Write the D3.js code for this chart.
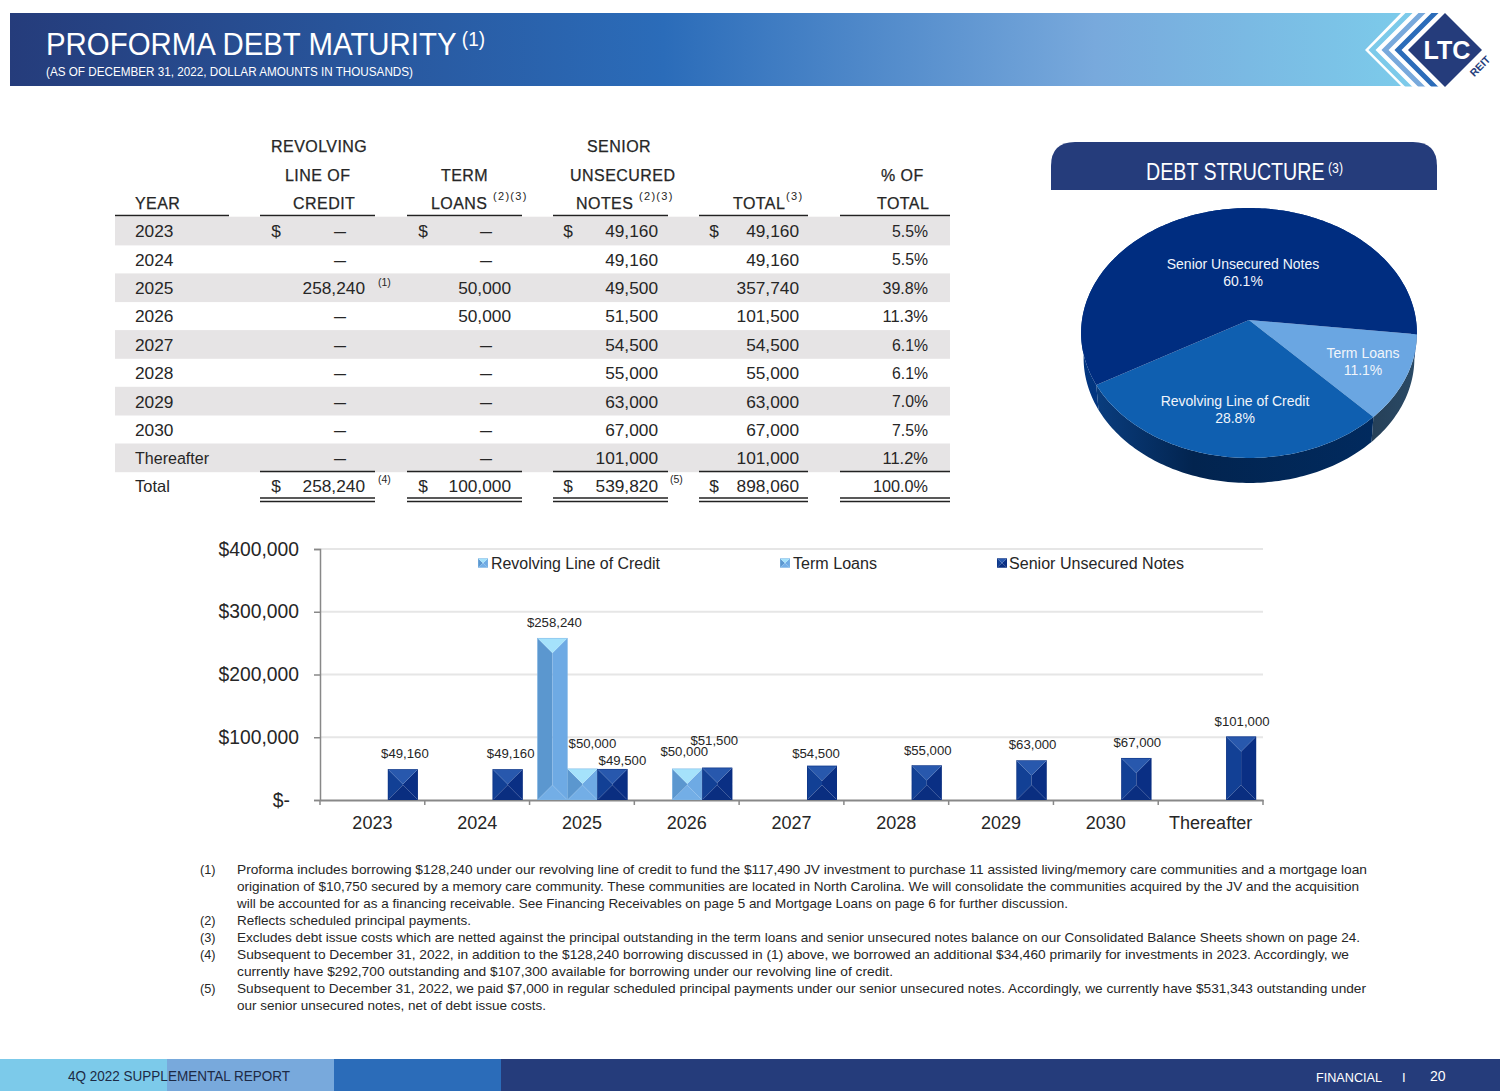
<!DOCTYPE html>
<html><head><meta charset="utf-8">
<script src="https://cdn.jsdelivr.net/npm/d3@7"></script>
<style>html,body{margin:0;padding:0;background:#fff}svg{display:block}text{font-family:"Liberation Sans",sans-serif}</style>
</head><body><svg id="c" width="1500" height="1091"></svg>
<script>
// ---- data ----
const years = ["2023","2024","2025","2026","2027","2028","2029","2030","Thereafter"];
const revolvingValues = [0,0,258240,0,0,0,0,0,0];
const termValues = [0,0,50000,50000,0,0,0,0,0];
const seniorValues = [49160,49160,49500,51500,54500,55000,63000,67000,101000];
const totalValues = [49160,49160,357740,101500,54500,55000,63000,67000,101000];
const pctValues = ["5.5%","5.5%","39.8%","11.3%","6.1%","6.1%","7.0%","7.5%","11.2%"];
const totalsRow = {revolving:258240,term:100000,senior:539820,total:898060,pct:"100.0%"};
const seriesNames = ["Revolving Line of Credit","Term Loans","Senior Unsecured Notes"];
const pieNames = ["Term Loans","Revolving Line of Credit","Senior Unsecured Notes"];
const pieValues = [11.1,28.8,60.1];
const yTicks = [0,100000,200000,300000,400000];
const footnotes = [
 ["(1)","Proforma includes borrowing $128,240 under our revolving line of credit to fund the $117,490 JV investment to purchase 11 assisted living/memory care communities and a mortgage loan",1130],
 ["","origination of $10,750 secured by a memory care community. These communities are located in North Carolina. We will consolidate the communities acquired by the JV and the acquisition",1122],
 ["","will be accounted for as a financing receivable. See Financing Receivables on page 5 and Mortgage Loans on page 6 for further discussion.",831],
 ["(2)","Reflects scheduled principal payments.",234],
 ["(3)","Excludes debt issue costs which are netted against the principal outstanding in the term loans and senior unsecured notes balance on our Consolidated Balance Sheets shown on page 24.",1123],
 ["(4)","Subsequent to December 31, 2022, in addition to the $128,240 borrowing discussed in (1) above, we borrowed an additional $34,460 primarily for investments in 2023. Accordingly, we",1112],
 ["","currently have $292,700 outstanding and $107,300 available for borrowing under our revolving line of credit.",656],
 ["(5)","Subsequent to December 31, 2022, we paid $7,000 in regular scheduled principal payments under our senior unsecured notes. Accordingly, we currently have $531,343 outstanding under",1129],
 ["","our senior unsecured notes, net of debt issue costs.",309]
];
// ---- helpers ----
const svg = d3.select("#c"), defs = svg.append("defs");
const NAVY="#253c7b", INK="#262626";
function T(x,y,s,o={}){
  const t=svg.append("text").attr("x",x).attr("y",y).attr("dy",".36em").text(s)
   .attr("font-size",o.size||16).attr("fill",o.fill||INK).attr("text-anchor",o.anchor||"start");
  if(o.ls)t.attr("letter-spacing",o.ls);
  if(o.weight)t.attr("font-weight",o.weight);
  if(o.stroke)t.attr("stroke",o.fill||INK).attr("stroke-width",o.stroke);
  if(o.w)t.attr("textLength",o.w).attr("lengthAdjust","spacingAndGlyphs");
  return t;
}
function sup(t,s,size){ t.append("tspan").attr("font-size",size).attr("dy","-.45em").text(" "+s); return t; }
function grad(id,stops,x2=1,y2=0){
  const g=defs.append("linearGradient").attr("id",id).attr("x1",0).attr("y1",0).attr("x2",x2).attr("y2",y2);
  stops.forEach(s=>g.append("stop").attr("offset",s[0]).attr("stop-color",s[1]));
}
// ---- header ----
defs.append("linearGradient").attr("id","hdr").attr("gradientUnits","userSpaceOnUse").attr("x1",10).attr("x2",1400).attr("y1",0).attr("y2",0)
 .selectAll("stop").data([[0,"#253c7b"],[.47,"#2b6cb9"],[.78,"#78a9dc"],[1,"#7ccaea"]]).join("stop")
 .attr("offset",d=>d[0]).attr("stop-color",d=>d[1]);
svg.append("path").attr("d","M10,13H1401L1365,50L1401,86H10Z").attr("fill","url(#hdr)");
sup(T(46,44,"PROFORMA DEBT MATURITY",{size:31,fill:"#fff",w:439}),"(1)",20);
T(46,71.5,"(AS OF DECEMBER 31, 2022, DOLLAR AMOUNTS IN THOUSANDS)",{size:12.5,fill:"#fff",w:367});
defs.append("clipPath").attr("id","hclip").append("rect").attr("x",1340).attr("y",13).attr("width",160).attr("height",73.5);
const chevG=svg.append("g").attr("clip-path","url(#hclip)");
[[1372,"#7ccaea"],[1385,"#78a9dc"],[1398,"#2b6cb9"]].forEach(c=>{
  chevG.append("path").attr("d",`M${c[0]+40},10L${c[0]},50L${c[0]+40},90`).attr("fill","none").attr("stroke",c[1]).attr("stroke-width",5).attr("stroke-linejoin","miter");
});
svg.append("path").attr("d","M1445,13L1482,50L1445,87L1408,50Z").attr("fill",NAVY);
T(1447,50,"LTC",{size:25,fill:"#fff",weight:"bold",anchor:"middle",w:47});
svg.append("text").attr("transform","translate(1480,66) rotate(-45)").attr("text-anchor","middle").attr("dy",".36em")
  .attr("font-size",10.5).attr("font-weight","bold").attr("fill",NAVY).text("REIT");
// ---- table ----
const rowY=i=>231.2+i*28.35;
[0,2,4,6,8].forEach(i=>svg.append("rect").attr("x",115).attr("y",rowY(i)-14.5).attr("width",835).attr("height",28.7).attr("fill","#e6e4e5"));
const hs={size:16,ls:.45,stroke:.25};
[[271,146,"REVOLVING"],[285,175,"LINE OF"],[293,203,"CREDIT"],[135,203,"YEAR"],[441,175,"TERM"],[431,203,"LOANS"],
 [587,146,"SENIOR"],[570,175,"UNSECURED"],[576,203,"NOTES"],[733,203,"TOTAL"],[881,175,"% OF"],[877,203,"TOTAL"]]
 .forEach(h=>T(h[0],h[1],h[2],hs));
[[493,196,"(2)(3)"],[639,196,"(2)(3)"],[786,196,"(3)"]].forEach(h=>T(h[0],h[1],h[2],{size:11,ls:1.3}));
const colSeg=[[115,229],[260,375],[407,522],[553,668],[699,808],[840,950]];
const line=(a,b,y,w=1.5)=>svg.append("line").attr("x1",a).attr("x2",b).attr("y1",y).attr("y2",y).attr("stroke","#222").attr("stroke-width",w);
colSeg.forEach(s=>line(s[0],s[1],215.5));
colSeg.slice(1).forEach(s=>{line(s[0],s[1],471.5);line(s[0],s[1],498);line(s[0],s[1],501.5);});
const fmt=d3.format(",");
const NUM=17.3;
const pctW=p=>p.replace(/[^0-9]/g,"").length*9.5+17;
const cols=[[365,346,276,revolvingValues],[511,492,423,termValues],[658,0,568,seniorValues],[799,0,714,totalValues]];
years.forEach((yr,i)=>{
  T(135,rowY(i),yr,i===8?{size:16.3,w:74}:{size:NUM});
  cols.forEach(c=>{
    const v=c[3][i];
    if(v)T(c[0],rowY(i),fmt(v),{size:NUM,anchor:"end"});
    else T(c[1]-12,rowY(i),"—",{size:NUM,w:12});
    if(i===0)T(c[2],rowY(i),"$",{size:NUM,anchor:"middle"});
  });
  T(928-pctW(pctValues[i]),rowY(i),pctValues[i],{size:16.5,w:pctW(pctValues[i])});
});
T(135,486,"Total",{size:16.5});
[[365,276,totalsRow.revolving],[511,423,totalsRow.term],[658,568,totalsRow.senior],[799,714,totalsRow.total]]
 .forEach(c=>{T(c[0],486,fmt(c[2]),{size:NUM,anchor:"end"});T(c[1],486,"$",{size:NUM,anchor:"middle"});});
T(928-pctW(totalsRow.pct),486,totalsRow.pct,{size:16.5,w:pctW(totalsRow.pct)});
[[378,282,"(1)"],[378,479,"(4)"],[670,479,"(5)"]].forEach(s=>T(s[0],s[1],s[2],{size:10.5}));
// ---- pie title ----
svg.append("path").attr("d","M1051,190V166Q1051,142 1075,142H1413Q1437,142 1437,166V190Z").attr("fill",NAVY);
sup(T(1146,171.5,"DEBT STRUCTURE",{size:24,fill:"#fff",w:197}),"(3)",15);
// ---- 3D pie: d3.pie angles, projected through a tilted-disc perspective ----
const apex=[1249,320], K=.104, SX=167, SY=123.6, DEPTH=25;
const proj=a=>{const u=Math.sin(a),v=-Math.cos(a),d=1-K*v;return [apex[0]+SX*u/d,apex[1]+SY*v/d];};
const START=96.5*Math.PI/180;
const arcs=d3.pie().sort(null).startAngle(START).endAngle(START+2*Math.PI)(pieValues);
const pieLine=d3.line();
const rim=d=>{const n=Math.ceil((d.endAngle-d.startAngle)/.02);return d3.range(n+1).map(i=>proj(d.startAngle+(d.endAngle-d.startAngle)*i/n));};
grad("sideTerm",[[0,"#264058"],[1,"#2a4a66"]]);
grad("sideRev",[[0,"#0a3d7e"],[.35,"#02244f"],[1,"#012a5e"]]);
grad("sideSen",[[0,"#02357f"],[1,"#0b3c8c"]]);
const sideFill=["url(#sideTerm)","url(#sideRev)","url(#sideSen)"], topFill=["#6aa6e2","#0f5fb0","#002d80"];
const pieG=svg.append("g");
const lower=p=>[apex[0]+(p[0]-apex[0])*.985,p[1]+DEPTH];
pieG.selectAll(".side").data(arcs).join("path").attr("class","side").attr("fill",(d,i)=>sideFill[i])
  .attr("d",d=>{const r=rim(d);return pieLine(r.concat(r.map(lower).reverse()))+"Z";});
pieG.selectAll(".top").data(arcs).join("path").attr("class","top").attr("fill",(d,i)=>topFill[i])
  .attr("d",d=>pieLine([apex].concat(rim(d)))+"Z");
const pieLab=[[1363,353,370],[1235,401,418],[1243,264,281]];
pieNames.forEach((n,i)=>{
  T(pieLab[i][0],pieLab[i][1],n,{size:14,fill:"#f1f5fb",anchor:"middle"});
  T(pieLab[i][0],pieLab[i][2],pieValues[i].toFixed(1)+"%",{size:14,fill:"#f1f5fb",anchor:"middle"});
});
// ---- bar chart ----
const x=d3.scaleBand().domain(years).range([320,1263]).paddingInner(0).paddingOuter(0);
const y=d3.scaleLinear().domain([0,400000]).range([800,549]);
const sub=d3.scaleBand().domain(seriesNames).range([x.bandwidth()/2-45,x.bandwidth()/2+45]);
svg.append("g").selectAll("line").data(yTicks.slice(1)).join("line")
  .attr("x1",320).attr("x2",1263).attr("y1",d=>y(d)).attr("y2",d=>y(d)).attr("stroke","#e6e6e6").attr("stroke-width",2);
const yAxis=d3.axisLeft(y).tickValues(yTicks).tickSize(6).tickPadding(15).tickFormat(d=>d?"$"+fmt(d):"$-");
const gy=svg.append("g").attr("transform","translate(320,0)").call(yAxis);
gy.selectAll("path,line").attr("stroke","#888").attr("stroke-width",1.5);
gy.selectAll("text").attr("font-size",19.3).attr("fill",INK).attr("font-family","Liberation Sans");
gy.selectAll(".tick").filter(d=>d===0).select("text").attr("x",-30);
const xAxis=d3.axisBottom(x).tickSize(0).tickPadding(16);
const gx=svg.append("g").attr("transform","translate(0,800)").call(xAxis);
gx.select("path").attr("stroke","#888").attr("stroke-width",2);
gx.selectAll("text").attr("font-size",18).attr("fill",INK).attr("font-family","Liberation Sans");
svg.append("g").selectAll("line").data(years.concat(["end"])).join("line")
  .attr("x1",d=>d==="end"?1263:x(d)).attr("x2",d=>d==="end"?1263:x(d)).attr("y1",800).attr("y2",805).attr("stroke","#888").attr("stroke-width",1.5);
const LIGHT={top:"#a5e2fb",left:"#5b97cf",right:"#6eaae4",bottom:"#73aee6",edge:"#7fb4e4"};
const DARK={top:"#2858ad",left:"#124095",right:"#0a2f84",bottom:"#0a2e80",edge:"#0a2f7e"};
function bevel(g,bx,by,w,h,c){
  const b=Math.min(w/2,h/2), cx=bx+w/2, t=by+b, m=by+h-b;
  const P=(pts,f)=>g.append("polygon").attr("points",pts.join(" ")).attr("fill",f);
  P([[bx,by],[cx,t],[cx,m],[bx,by+h]],c.left);
  P([[bx+w,by],[cx,t],[cx,m],[bx+w,by+h]],c.right);
  P([[bx,by+h],[cx,m],[bx+w,by+h]],c.bottom);
  P([[bx,by],[bx+w,by],[cx,t]],c.top);
  g.append("rect").attr("x",bx+.25).attr("y",by+.25).attr("width",w-.5).attr("height",h-.5).attr("fill","none").attr("stroke",c.edge).attr("stroke-width",.5);
}
const seriesValues=[revolvingValues,termValues,seniorValues], seriesCol=[LIGHT,LIGHT,DARK];
const barG=svg.append("g");
seriesValues.forEach((vals,s)=>vals.forEach((v,i)=>{
  if(!v)return;
  bevel(barG,x(years[i])+sub(seriesNames[s])+.5,y(v),sub.bandwidth(),y(0)-y(v),seriesCol[s]);
}));
// label nudges from the automatic above-bar spot, to avoid label collisions as in the original
const nudges={"0-2":[1,0],"1-2":[9,-9],"2-2":[9,7],"1-3":[-4,-1],"2-3":[-4,-11],"2-4":[-7,3],"2-5":[0,1],"2-6":[0,0],"2-7":[0,0],"2-8":[0,1],"2-0":[1,0],"2-1":[2,0]};
seriesValues.forEach((vals,s)=>vals.forEach((v,i)=>{
  if(!v)return;
  const n=nudges[s+"-"+i]||[0,0];
  T(x(years[i])+sub(seriesNames[s])+1.5+sub.bandwidth()/2+n[0],y(v)-16+n[1],"$"+fmt(v),{size:13.2,anchor:"middle"});
}));
const legX=[[478,491,169],[780,793,84],[997,1009,175]];
seriesNames.forEach((n,i)=>{
  bevel(svg.append("g"),legX[i][0],558.5,10,9,seriesCol[i]);
  T(legX[i][1],563.5,n,{size:16,w:legX[i][2]});
});
// ---- footnotes ----
footnotes.forEach((f,i)=>{
  const ly=869.5+i*17;
  if(f[0])T(200,ly,f[0],{size:12.7});
  T(237,ly,f[1],{size:12.7,w:f[2]});
});
// ---- footer ----
[[0,167,"#7ccaea"],[167,167,"#78a9dc"],[334,167,"#2b6cb9"],[501,999,NAVY]].forEach(b=>
  svg.append("rect").attr("x",b[0]).attr("y",1059).attr("width",b[1]).attr("height",32).attr("fill",b[2]));
T(68,1076,"4Q 2022 SUPPLEMENTAL REPORT",{size:14,fill:"#1d2a45",w:222});
T(1316,1077,"FINANCIAL",{size:13.5,fill:"#fff",w:66});
T(1402,1077,"I",{size:13,fill:"#fff"});
T(1430,1076,"20",{size:14,fill:"#fff"});
</script></body></html>
